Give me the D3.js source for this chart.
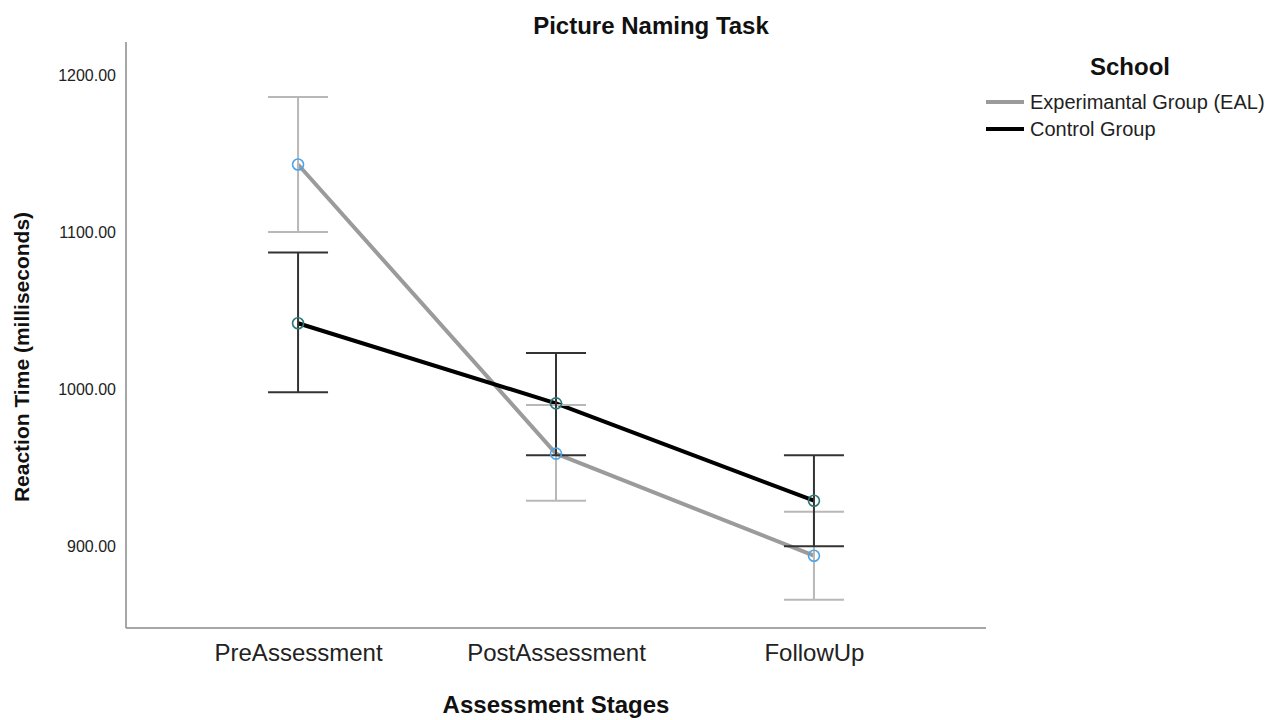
<!DOCTYPE html>
<html>
<head>
<meta charset="utf-8">
<script src="https://cdn.jsdelivr.net/npm/d3@7/dist/d3.min.js"></script>
<style>
  html, body { margin: 0; padding: 0; background: #fff; }
  svg { display: block; font-family: "Liberation Sans", Arial, sans-serif; }
</style>
</head>
<body>
<svg id="chart" width="1286" height="720"></svg>
<script>
// Assessment stages on the x axis
const stages = ["PreAssessment", "PostAssessment", "FollowUp"];

// Experimental group (EAL): mean reaction time and 95% CI bounds
const ealMean  = [1143, 959, 894];
const ealLower = [1100, 929, 866];
const ealUpper = [1186, 990, 922];

// Control group: mean reaction time and 95% CI bounds
const ctrlMean  = [1042, 991, 929];
const ctrlLower = [998, 958, 900];
const ctrlUpper = [1087, 1023, 958];

const yTicks = [900, 1000, 1100, 1200];

const groups = [
  { name: "Experimantal Group (EAL)", mean: ealMean, lower: ealLower, upper: ealUpper,
    line: "#9b9b9b", bar: "#b8b8b8", marker: "#4da3e6" },
  { name: "Control Group", mean: ctrlMean, lower: ctrlLower, upper: ctrlUpper,
    line: "#000000", bar: "#333333", marker: "#2c7674" }
];

const svg = d3.select("#chart");
const plot = { left: 126, right: 986, top: 42, bottom: 628 };

const x = d3.scalePoint().domain(stages).range([plot.left, plot.right]).padding(0.667);
const y = d3.scaleLinear().domain([848, 1221]).range([plot.bottom, plot.top]);

// Axes (no tick marks, just labels and the frame lines)
const yAxis = d3.axisLeft(y).tickValues(yTicks).tickFormat(d3.format(".2f")).tickSize(0).tickPadding(10);
const gy = svg.append("g").attr("transform", `translate(${plot.left},0)`).call(yAxis);
gy.select(".domain").remove();
gy.selectAll("text").attr("font-size", 16).attr("fill", "#222")
  .attr("font-family", "'Liberation Sans', Arial, sans-serif");

const xAxis = d3.axisBottom(x).tickSize(0).tickPadding(16);
const gx = svg.append("g").attr("transform", `translate(0,${plot.bottom})`).call(xAxis);
gx.select(".domain").remove();
gx.selectAll("text").attr("font-size", 24).attr("fill", "#222")
  .attr("font-family", "'Liberation Sans', Arial, sans-serif");

svg.append("line")
  .attr("x1", plot.left).attr("x2", plot.left)
  .attr("y1", plot.top).attr("y2", plot.bottom)
  .attr("stroke", "#8a8a8a").attr("stroke-width", 1.5);
svg.append("line")
  .attr("x1", plot.left).attr("x2", plot.right)
  .attr("y1", plot.bottom).attr("y2", plot.bottom)
  .attr("stroke", "#8a8a8a").attr("stroke-width", 1.5);

// Mean lines
const line = d3.line().x((d, i) => x(stages[i])).y(d => y(d));
groups.forEach(g => {
  svg.append("path")
    .datum(g.mean)
    .attr("d", line)
    .attr("fill", "none")
    .attr("stroke", g.line)
    .attr("stroke-width", 4)
    .attr("stroke-linejoin", "round");
});

// Error bars
const capHalf = 30;
groups.forEach(g => {
  const eb = svg.append("g").attr("stroke", g.bar).attr("stroke-width", 2).attr("fill", "none");
  stages.forEach((s, i) => {
    const cx = x(s);
    eb.append("line").attr("x1", cx).attr("x2", cx).attr("y1", y(g.lower[i])).attr("y2", y(g.upper[i]));
    eb.append("line").attr("x1", cx - capHalf).attr("x2", cx + capHalf).attr("y1", y(g.upper[i])).attr("y2", y(g.upper[i]));
    eb.append("line").attr("x1", cx - capHalf).attr("x2", cx + capHalf).attr("y1", y(g.lower[i])).attr("y2", y(g.lower[i]));
  });
});

// Mean markers
groups.forEach(g => {
  svg.append("g").selectAll("circle")
    .data(g.mean)
    .join("circle")
    .attr("cx", (d, i) => x(stages[i]))
    .attr("cy", d => y(d))
    .attr("r", 5.5)
    .attr("fill", "none")
    .attr("stroke", g.marker)
    .attr("stroke-width", 1.6);
});

// Titles
svg.append("text")
  .attr("x", 651).attr("y", 34)
  .attr("text-anchor", "middle")
  .attr("font-size", 24).attr("font-weight", "bold").attr("fill", "#111")
  .text("Picture Naming Task");

svg.append("text")
  .attr("x", 556).attr("y", 713)
  .attr("text-anchor", "middle")
  .attr("font-size", 24).attr("font-weight", "bold").attr("fill", "#111")
  .text("Assessment Stages");

svg.append("text")
  .attr("transform", "translate(29,357) rotate(-90)")
  .attr("text-anchor", "middle")
  .attr("font-size", 21).attr("font-weight", "bold").attr("fill", "#111")
  .text("Reaction Time (milliseconds)");

// Legend
const legend = svg.append("g");
legend.append("text")
  .attr("x", 1130).attr("y", 75)
  .attr("text-anchor", "middle")
  .attr("font-size", 24).attr("font-weight", "bold").attr("fill", "#111")
  .text("School");

groups.forEach((g, i) => {
  const ly = 102 + i * 27;
  legend.append("line")
    .attr("x1", 986).attr("x2", 1024)
    .attr("y1", ly).attr("y2", ly)
    .attr("stroke", g.line).attr("stroke-width", 4);
  legend.append("text")
    .attr("x", 1030).attr("y", ly + 7)
    .attr("font-size", 20).attr("fill", "#222")
    .text(g.name);
});
</script>
</body>
</html>
